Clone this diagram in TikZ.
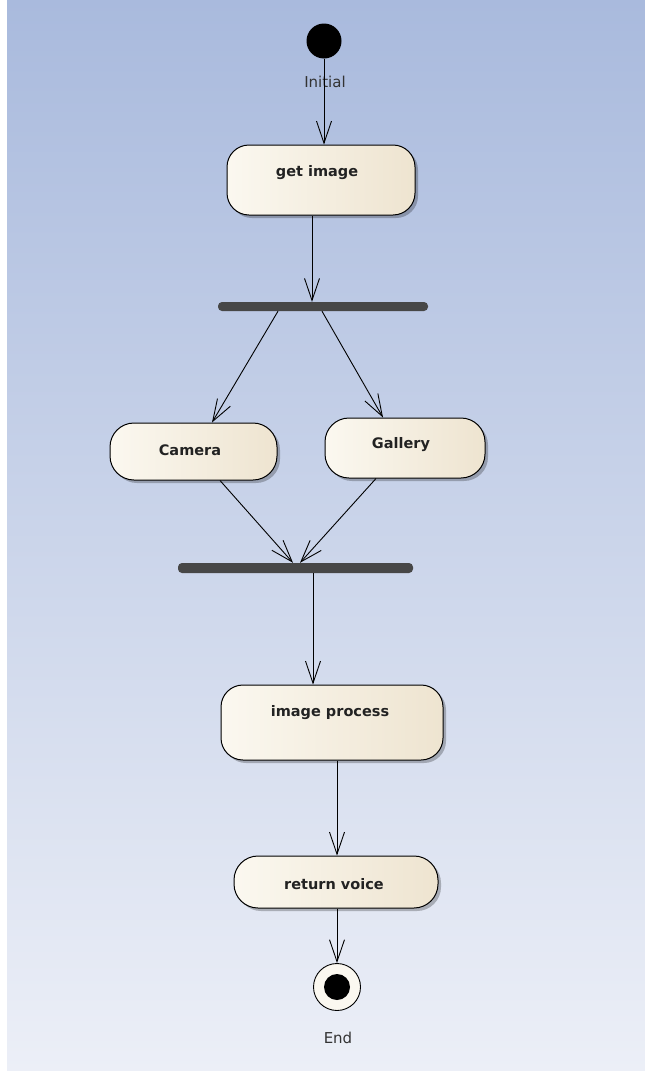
\documentclass[tikz,border=0pt]{standalone}
\usepackage{fontspec}
\setmainfont{DejaVu Sans}
\usetikzlibrary{arrows.meta,calc,shadows}
\definecolor{bgtop}{HTML}{A9BADD}
\definecolor{bgbot}{HTML}{ECEFF7}
\definecolor{creamL}{HTML}{FBF8F0}
\definecolor{creamR}{HTML}{EEE4D0}
\definecolor{barcol}{HTML}{474747}
\definecolor{txtcol}{HTML}{222222}
\definecolor{lblcol}{HTML}{333333}
\tikzset{
  actbox/.style={draw=black, line width=1pt, rounded corners=22pt, left color=creamL, right color=creamR,
    drop shadow={shadow xshift=3pt, shadow yshift=-3pt, fill=black, opacity=0.25}, inner sep=0pt},
  acttext/.style={font=\bfseries\fontsize{14.5}{16}\selectfont, text=txtcol, inner sep=0pt},
  lbltext/.style={font=\fontsize{15}{17}\selectfont, text=lblcol, inner sep=0pt},
  bar/.style={fill=barcol, rounded corners=4pt, inner sep=0pt},
  flow/.style={draw=black, line width=0.9pt, -{Straight Barb[length=22pt,width=15pt,line width=0.9pt]}}
}
\begin{document}
\begin{tikzpicture}[x=1pt,y=1pt]
\useasboundingbox (0,0) rectangle (645,-1071);
\fill[white] (0,0) rectangle (645,-1071);
\shade[top color=bgtop, bottom color=bgbot] (7,0) rectangle (645,-1071);

% nodes
\node[circle, fill=black, minimum size=35pt, inner sep=0pt] (init) at (324,-41) {};
\node[lbltext] (initlbl) at (325,-82) {Initial};

\node[actbox, minimum width=188pt, minimum height=70pt] (gi) at (321,-180) {};
\node[acttext] (gitxt) at (317,-173) {get image};

\node[bar, minimum width=210pt, minimum height=9pt] (fork) at (323,-306.5) {};

\node[actbox, minimum width=167pt, minimum height=57pt, rounded corners=24pt] (cam) at (193.5,-451.5) {};
\node[acttext] (camtxt) at (190,-450) {Camera};

\node[actbox, minimum width=160pt, minimum height=60pt, rounded corners=24pt] (gal) at (405,-448) {};
\node[acttext] (galtxt) at (401,-445) {Gallery};

\node[bar, minimum width=235pt, minimum height=10pt] (join) at (295.5,-568) {};

\node[actbox, minimum width=222pt, minimum height=75pt] (ip) at (332,-722.5) {};
\node[acttext] (iptxt) at (330,-713) {image process};

\node[actbox, minimum width=204pt, minimum height=52pt, rounded corners=24pt] (rv) at (336,-882) {};
\node[acttext] (rvtxt) at (334,-884) {return voice};

\node[circle, draw=black, line width=0.9pt, fill=creamL, minimum size=47pt, inner sep=0pt] (fin) at (337,-987) {};
\node[circle, fill=black, minimum size=26pt, inner sep=0pt] (fininner) at (fin.center) {};
\node[lbltext] (finlbl) at (338,-1038) {End};

% connectors
\draw[flow] (init.south) -- (gi.north -| init.south);
\draw[flow] ($(gi.south)+(-9,0)$) -- ($(fork.north)+(-11,0)$);
\draw[flow] ($(fork.south)+(-45,0)$) -- ($(cam.north)+(18.5,0)$);
\draw[flow] ($(fork.south)+(-1,0)$) -- ($(gal.north)+(-22,0)$);
\draw[flow] ($(cam.south)+(26.5,0)$) -- ($(join.north)+(-2.5,0)$);
\draw[flow] ($(gal.south)+(-29,0)$) -- ($(join.north)+(4.5,0)$);
\draw[flow] ($(join.south)+(17.5,0)$) -- ($(ip.north)+(-19,0)$);
\draw[flow] ($(ip.south)+(5,0)$) -- ($(rv.north)+(1,0)$);
\draw[flow] (rv.south -| fin.north) -- (fin.north);
\end{tikzpicture}
\end{document}
